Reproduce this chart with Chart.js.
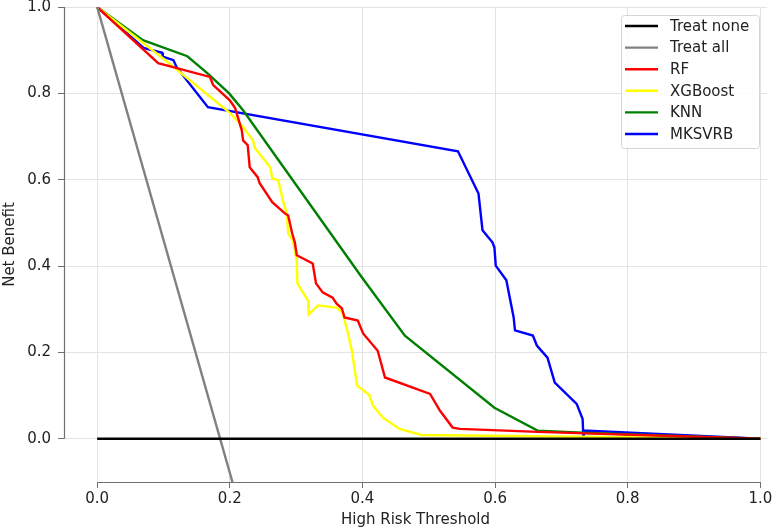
<!DOCTYPE html>
<html>
<head>
<meta charset="utf-8">
<script src="https://cdn.jsdelivr.net/npm/chart.js@4.4.1/dist/chart.umd.min.js"></script>
<style>
  html, body { margin: 0; padding: 0; background: #fff; }
</style>
</head>
<body>
<canvas id="dca" width="775" height="530"></canvas>
<script>
// tick values
const xTicks = [0.0, 0.2, 0.4, 0.6, 0.8, 1.0];
const yTicks = [0.0, 0.2, 0.4, 0.6, 0.8, 1.0];

// reference lines
const noneX = [0, 1];
const noneY = [0, 0];
const allX = [0, 0.204];
const allY = [1.0, -0.1];

// RF
const rfX = [0, 0.092, 0.170, 0.175, 0.200, 0.208, 0.218, 0.220, 0.227, 0.230, 0.242, 0.245,
  0.264, 0.283, 0.288, 0.294, 0.298, 0.301, 0.325, 0.330, 0.340, 0.355, 0.361, 0.369, 0.373,
  0.393, 0.401, 0.423, 0.434, 0.502, 0.517, 0.536, 0.547, 0.664, 1.0];
const rfY = [1.0, 0.870, 0.838, 0.819, 0.784, 0.766, 0.715, 0.691, 0.680, 0.629, 0.606, 0.592,
  0.548, 0.522, 0.517, 0.476, 0.455, 0.425, 0.406, 0.360, 0.339, 0.327, 0.313, 0.302, 0.281,
  0.274, 0.244, 0.204, 0.142, 0.104, 0.065, 0.026, 0.023, 0.016, 0.0];

// XGBoost
const xgbX = [0, 0.100, 0.200, 0.220, 0.235, 0.238, 0.261, 0.264, 0.273, 0.280, 0.286, 0.288,
  0.295, 0.301, 0.302, 0.318, 0.319, 0.333, 0.361, 0.370, 0.378, 0.384, 0.392, 0.410, 0.416,
  0.431, 0.456, 0.489, 1.0];
const xgbY = [1.0, 0.880, 0.755, 0.722, 0.691, 0.673, 0.629, 0.603, 0.599, 0.552, 0.522, 0.476,
  0.459, 0.413, 0.360, 0.320, 0.288, 0.309, 0.304, 0.292, 0.246, 0.204, 0.123, 0.102, 0.077,
  0.049, 0.023, 0.009, 0.0];

// KNN
const knnX = [0, 0.069, 0.136, 0.166, 0.199, 0.220, 0.399, 0.464, 0.599, 0.664, 0.732, 1.0];
const knnY = [1.0, 0.923, 0.886, 0.847, 0.800, 0.761, 0.374, 0.239, 0.072, 0.019, 0.014, 0.0];

// MKSVRB
const mkX = [0, 0.070, 0.098, 0.099, 0.115, 0.120, 0.167, 0.544, 0.575, 0.581, 0.596, 0.599,
  0.601, 0.617, 0.628, 0.630, 0.657, 0.663, 0.679, 0.690, 0.723, 0.732, 0.733, 0.734, 1.0];
const mkY = [1.0, 0.905, 0.894, 0.885, 0.877, 0.860, 0.768, 0.666, 0.568, 0.483, 0.455, 0.443,
  0.401, 0.367, 0.281, 0.251, 0.239, 0.216, 0.188, 0.130, 0.081, 0.046, 0.007, 0.019, 0.0];

const pts = (xs, ys) => xs.map((x, i) => ({ x: x, y: ys[i] }));

const FONT = "'DejaVu Sans', 'Liberation Sans', sans-serif";
const FSIZE = 15;

const line = (label, color, xs, ys) => ({
  label: label,
  data: pts(xs, ys),
  borderColor: color,
  backgroundColor: color,
  borderWidth: 2.4,
  pointRadius: 0,
  tension: 0,
  fill: false
});

// trimmed spines + legend box
const frame = {
  id: 'frame',
  afterDraw(chart) {
    const ctx = chart.ctx;
    const xs = chart.scales.x, ys = chart.scales.y;
    const area = chart.chartArea;
    ctx.save();
    ctx.strokeStyle = '#707070';
    ctx.lineWidth = 1.2;
    ctx.beginPath();
    ctx.moveTo(xs.getPixelForValue(0), area.bottom + 0.5);
    ctx.lineTo(xs.getPixelForValue(1), area.bottom + 0.5);
    ctx.moveTo(area.left + 0.5, ys.getPixelForValue(0));
    ctx.lineTo(area.left + 0.5, ys.getPixelForValue(1));
    ctx.stroke();

    // legend
    const bx = 621, by = 15, bw = 138, bh = 133;
    ctx.beginPath();
    ctx.roundRect(bx + 0.5, by + 0.5, bw, bh, 3);
    ctx.fillStyle = 'rgba(255,255,255,0.85)';
    ctx.fill();
    ctx.strokeStyle = '#d5d5d5';
    ctx.lineWidth = 1;
    ctx.stroke();
    ctx.font = FSIZE + 'px ' + FONT;
    ctx.textBaseline = 'middle';
    chart.data.datasets.forEach((ds, i) => {
      const cy = by + 11 + i * 21.6;
      ctx.strokeStyle = ds.borderColor;
      ctx.lineWidth = 2.4;
      ctx.beginPath();
      ctx.moveTo(bx + 4, cy);
      ctx.lineTo(bx + 37, cy);
      ctx.stroke();
      ctx.fillStyle = '#222';
      ctx.fillText(ds.label, bx + 49, cy + 1);
    });
    ctx.restore();
  }
};

new Chart(document.getElementById('dca'), {
  type: 'line',
  data: {
    datasets: [
      line('Treat none', '#000000', noneX, noneY),
      line('Treat all', '#808080', allX, allY),
      line('RF', '#ff0000', rfX, rfY),
      line('XGBoost', '#ffff00', xgbX, xgbY),
      line('KNN', '#008000', knnX, knnY),
      line('MKSVRB', '#0000ff', mkX, mkY)
    ]
  },
  options: {
    responsive: false,
    animation: false,
    layout: { padding: { top: 7, right: 8, left: 0, bottom: 0 } },
    plugins: {
      legend: { display: false },
      tooltip: { enabled: false }
    },
    scales: {
      x: {
        type: 'linear',
        min: -0.05,
        max: 1.01,
        afterBuildTicks: s => { s.ticks = xTicks.map(v => ({ value: v })); },
        afterFit: s => { s.height = 48; s.paddingLeft = 0; s.paddingRight = 0; },
        border: { display: false },
        grid: { color: '#e3e3e3', tickColor: '#707070', tickLength: 6, lineWidth: 1 },
        ticks: {
          color: '#222', padding: 2, maxRotation: 0,
          font: { family: FONT, size: FSIZE },
          callback: v => v.toFixed(1)
        },
        title: {
          display: true, text: 'High Risk Threshold', color: '#222',
          font: { family: FONT, size: FSIZE }, padding: { top: 0, bottom: 1 }
        }
      },
      y: {
        type: 'linear',
        min: -0.1,
        max: 1.0,
        afterBuildTicks: s => { s.ticks = yTicks.map(v => ({ value: v })); },
        afterFit: s => { s.width = 64; s.paddingTop = 0; s.paddingBottom = 0; },
        border: { display: false },
        grid: { color: '#e3e3e3', tickColor: '#707070', tickLength: 6, lineWidth: 1 },
        ticks: {
          color: '#222', padding: 7,
          font: { family: FONT, size: FSIZE },
          callback: v => v.toFixed(1)
        },
        title: {
          display: true, text: 'Net Benefit', color: '#222',
          font: { family: FONT, size: FSIZE }, padding: { top: 1, bottom: 0 }
        }
      }
    }
  },
  plugins: [frame]
});
</script>
</body>
</html>
